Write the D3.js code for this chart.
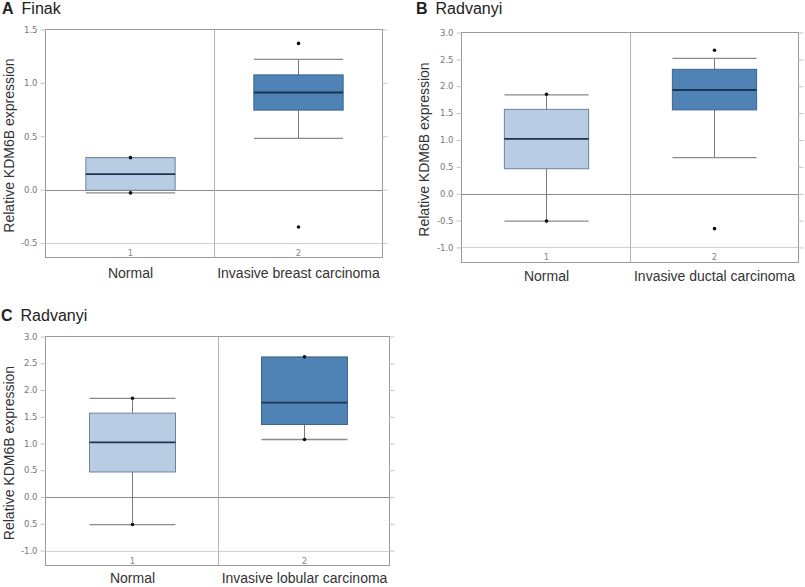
<!DOCTYPE html>
<html>
<head>
<meta charset="utf-8">
<script src="https://cdn.jsdelivr.net/npm/d3@7"></script>
<style>
  body { margin: 0; background: #fff; }
  svg { display: block; }
</style>
</head>
<body>
<div id="chart"></div>
<script>
// ---------- values ----------
// A: Finak
const groupsA = ["Normal", "Invasive breast carcinoma"];
const lowA  = [-0.03, 0.48];
const q1A   = [-0.005, 0.745];
const medA  = [0.145, 0.91];
const q3A   = [0.30, 1.075];
const highA = [0.30, 1.22];
const dotsA = [[0.30, -0.03], [1.37, -0.35]];
const ticksA = [1.5, 1.0, 0.5, 0.0, -0.5];
const tickLabelsA = ["1.5", "1.0", "0.5", "0.0", "-0.5"];

// B: Radvanyi (ductal)
const groupsB = ["Normal", "Invasive ductal carcinoma"];
const lowB  = [-0.51, 0.67];
const q1B   = [0.465, 1.56];
const medB  = [1.02, 1.93];
const q3B   = [1.57, 2.315];
const highB = [1.84, 2.52];
const dotsB = [[1.85, -0.51], [2.67, -0.65]];
const ticksB = [3.0, 2.5, 2.0, 1.5, 1.0, 0.5, 0.0, -0.5, -1.0];
const tickLabelsB = ["3.0", "2.5", "2.0", "1.5", "1.0", "0.5", "0.0", "-0.5", "-1.0"];

// C: Radvanyi (lobular)
const groupsC = ["Normal", "Invasive lobular carcinoma"];
const lowC  = [-0.515, 1.075];
const q1C   = [0.468, 1.355];
const medC  = [1.02, 1.765];
const q3C   = [1.567, 2.615];
const highC = [1.845, 2.615];
const dotsC = [[1.845, -0.515], [2.62, 1.075]];
const ticksC = [3.0, 2.5, 2.0, 1.5, 1.0, 0.5, 0.0, -0.5, -1.0];
const tickLabelsC = ["3.0", "2.5", "2.0", "1.5", "1.0", "0.5", "0.0", "0.5", "-1.0"];

const yTitle = "Relative KDM6B expression";
const boxColors = ["#b8cce4", "#4f83b5"];
const boxStrokes = ["#6f849c", "#3b6690"];

// ---------- layout ----------
const panels = [
  { letter: "A", name: "Finak", groups: groupsA, low: lowA, q1: q1A, med: medA, q3: q3A, high: highA,
    dots: dotsA, ticks: ticksA, tickLabels: tickLabelsA, domain: [-0.635, 1.5],
    left: 45.5, right: 382.5, top: 29.5, bottom: 257.5, boxFrac: 0.53,
    titleX: 2, titleY: 14, yLabelX: 13.5, catY: 277.5, numY: 255.5 },
  { letter: "B", name: "Radvanyi", groups: groupsB, low: lowB, q1: q1B, med: medB, q3: q3B, high: highB,
    dots: dotsB, ticks: ticksB, tickLabels: tickLabelsB, domain: [-1.28, 3.0],
    left: 461.5, right: 798.5, top: 32.5, bottom: 262.5, boxFrac: 0.5,
    titleX: 416, titleY: 14, yLabelX: 428.5, catY: 281, numY: 260 },
  { letter: "C", name: "Radvanyi", groups: groupsC, low: lowC, q1: q1C, med: medC, q3: q3C, high: highC,
    dots: dotsC, ticks: ticksC, tickLabels: tickLabelsC, domain: [-1.28, 3.0],
    left: 45.5, right: 389.5, top: 336.5, bottom: 565.5, boxFrac: 0.5,
    titleX: 1, titleY: 320.5, yLabelX: 13.5, catY: 583, numY: 564 }
];

const svg = d3.select("#chart").append("svg")
    .attr("width", 805)
    .attr("height", 587);

function drawPanel(p) {
    let g = svg.append("g");

    let y = d3.scaleLinear().domain(p.domain).range([p.bottom, p.top]);
    let x = d3.scaleBand().domain(p.groups).range([p.left, p.right]);

    // title
    let t = g.append("text")
        .attr("x", p.titleX)
        .attr("y", p.titleY)
        .attr("font-family", "Liberation Sans, Arial, sans-serif")
        .attr("font-size", 16)
        .attr("fill", "#222");
    t.append("tspan").attr("font-weight", "bold").text(p.letter);
    t.append("tspan").attr("dx", 8).text(p.name);

    // lowest gridline + zero line
    let lowest = d3.min(p.ticks);
    g.append("line")
        .attr("x1", p.left).attr("x2", p.right)
        .attr("y1", Math.round(y(lowest)) + 0.5).attr("y2", Math.round(y(lowest)) + 0.5)
        .attr("stroke", "#d2d2d2");
    g.append("line")
        .attr("x1", p.left).attr("x2", p.right)
        .attr("y1", Math.round(y(0)) + 0.5).attr("y2", Math.round(y(0)) + 0.5)
        .attr("stroke", "#8c8c8c");

    // divider between groups
    let mid = Math.round(x(p.groups[1])) + 0.5;
    g.append("line")
        .attr("x1", mid).attr("x2", mid)
        .attr("y1", p.top).attr("y2", p.bottom)
        .attr("stroke", "#b4b4b4");

    // frame
    g.append("rect")
        .attr("x", p.left).attr("y", p.top)
        .attr("width", p.right - p.left).attr("height", p.bottom - p.top)
        .attr("fill", "none")
        .attr("stroke", "#9a9a9a");

    // left axis
    let axL = d3.axisLeft(y)
        .tickValues(p.ticks)
        .tickSize(5)
        .tickPadding(3)
        .tickFormat((d, i) => p.tickLabels[i]);
    let gl = g.append("g").attr("transform", `translate(${p.left},0)`).call(axL);
    gl.select(".domain").remove();
    gl.selectAll("line").attr("stroke", "#c4c4c4");
    gl.selectAll("text")
        .attr("fill", "#777")
        .attr("font-family", "DejaVu Sans, sans-serif")
        .attr("font-size", 8.5);

    // right ticks
    let axR = d3.axisRight(y).tickValues(p.ticks).tickSize(5).tickFormat("");
    let gr = g.append("g").attr("transform", `translate(${p.right},0)`).call(axR);
    gr.select(".domain").remove();
    gr.selectAll("line").attr("stroke", "#c4c4c4");

    // y title
    g.append("text")
        .attr("transform", `translate(${p.yLabelX},${(p.top + p.bottom) / 2 + 2}) rotate(-90)`)
        .attr("text-anchor", "middle")
        .attr("font-family", "Liberation Sans, Arial, sans-serif")
        .attr("font-size", 14)
        .attr("fill", "#333")
        .text(yTitle);

    // boxes
    p.groups.forEach(function (grp, i) {
        let cx = Math.round(x(grp) + x.bandwidth() / 2) + 0.5;
        let w = x.bandwidth() * p.boxFrac;

        g.append("line")
            .attr("x1", cx).attr("x2", cx)
            .attr("y1", y(p.high[i])).attr("y2", y(p.low[i]))
            .attr("stroke", "#7a7a7a");
        [p.high[i], p.low[i]].forEach(v =>
            g.append("line")
                .attr("x1", cx - w / 2).attr("x2", cx + w / 2)
                .attr("y1", y(v)).attr("y2", y(v))
                .attr("stroke", "#8a8a8a")
                .attr("stroke-width", 1.3)
        );

        g.append("rect")
            .attr("x", cx - w / 2)
            .attr("y", y(p.q3[i]))
            .attr("width", w)
            .attr("height", y(p.q1[i]) - y(p.q3[i]))
            .attr("fill", boxColors[i])
            .attr("stroke", boxStrokes[i]);

        g.append("line")
            .attr("x1", cx - w / 2).attr("x2", cx + w / 2)
            .attr("y1", y(p.med[i])).attr("y2", y(p.med[i]))
            .attr("stroke", "#1d3450")
            .attr("stroke-width", 1.8);

        p.dots[i].forEach(v =>
            g.append("circle")
                .attr("cx", cx).attr("cy", y(v))
                .attr("r", 1.8)
                .attr("fill", "#111")
        );

        g.append("text")
            .attr("x", cx).attr("y", p.numY)
            .attr("text-anchor", "middle")
            .attr("font-family", "DejaVu Sans, sans-serif")
            .attr("font-size", 8.5)
            .attr("fill", "#888")
            .text(i + 1);

        g.append("text")
            .attr("x", cx).attr("y", p.catY)
            .attr("text-anchor", "middle")
            .attr("font-family", "Liberation Sans, Arial, sans-serif")
            .attr("font-size", 14)
            .attr("fill", "#333")
            .text(grp);
    });
}

panels.forEach(drawPanel);
</script>
</body>
</html>
